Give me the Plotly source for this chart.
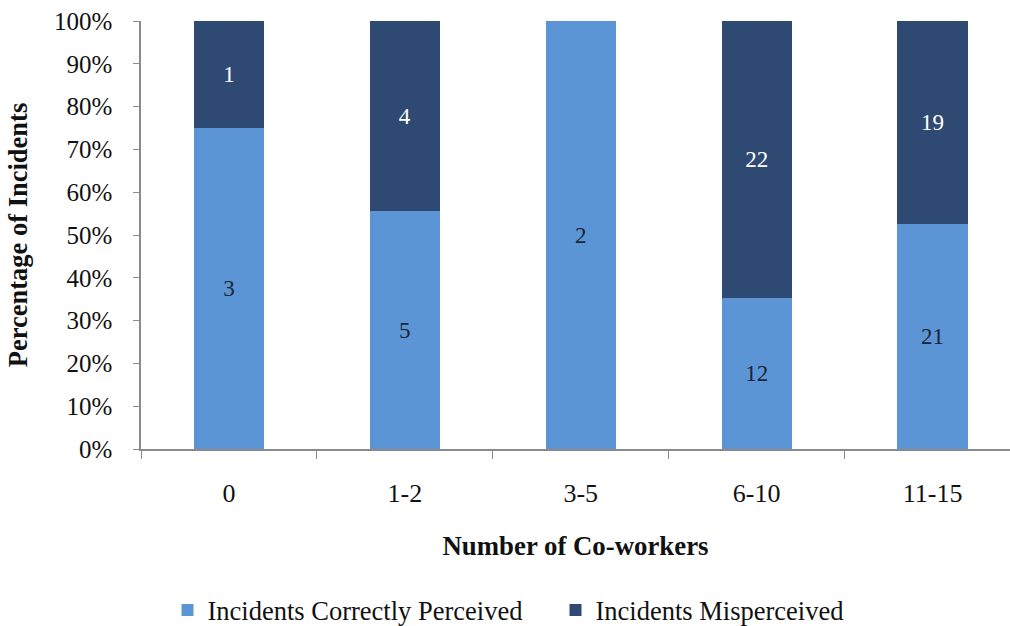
import plotly.graph_objects as go

categories = ["0", "1-2", "3-5", "6-10", "11-15"]
correct = [3, 5, 2, 12, 21]
misperceived = [1, 4, 0, 22, 19]

light_blue = "#5b95d6"
dark_blue = "#2f4a72"
font_family = "Liberation Serif, Times New Roman, serif"


def labels(values):
    return [str(v) if v > 0 else "" for v in values]


fig = go.Figure()
fig.add_trace(go.Bar(
    x=categories, y=correct, name="Incidents Correctly Perceived",
    marker=dict(color=light_blue, line=dict(width=0)),
    text=labels(correct), textposition="inside", insidetextanchor="middle",
    textfont=dict(color="#1b2535", size=23, family=font_family),
    width=0.4,
))
fig.add_trace(go.Bar(
    x=categories, y=misperceived, name="Incidents Misperceived",
    marker=dict(color=dark_blue, line=dict(width=0)),
    text=labels(misperceived), textposition="inside", insidetextanchor="middle",
    textfont=dict(color="white", size=23, family=font_family),
    width=0.4,
))

fig.update_layout(
    barmode="stack",
    barnorm="percent",
    width=1010, height=626,
    margin=dict(l=141, r=0, t=21, b=177),
    paper_bgcolor="white", plot_bgcolor="white",
    font=dict(family=font_family, size=25, color="#111111"),
    uniformtext=dict(mode="show", minsize=23),
    legend=dict(
        orientation="h", xref="container", yref="container",
        x=0.55, y=0.025, xanchor="center", yanchor="middle",
        font=dict(size=26.5, family=font_family),
        traceorder="normal", entrywidth=343,
    ),
    showlegend=True,
)

fig.update_xaxes(
    type="category", range=[-0.5, 4.44],
    showline=True, linecolor="#8a8a8a", linewidth=1.5,
    ticks="outside", tickson="boundaries", ticklen=8, tickcolor="#8a8a8a",
    ticklabelstandoff=20,
    tickfont=dict(size=26),
    title=dict(text="<b>Number of Co-workers</b>", font=dict(size=26.8), standoff=29),
    showgrid=False, zeroline=False,
)
fig.update_yaxes(
    range=[0, 100], dtick=10, ticksuffix="%",
    showline=True, linecolor="#8a8a8a", linewidth=1.5,
    ticks="outside", ticklen=6, tickcolor="#8a8a8a",
    ticklabelstandoff=16,
    tickfont=dict(size=25),
    title=dict(text="<b>Percentage of Incidents</b>", font=dict(size=26.5), standoff=19),
    showgrid=False, zeroline=False,
)

fig.write_html("out.html")
